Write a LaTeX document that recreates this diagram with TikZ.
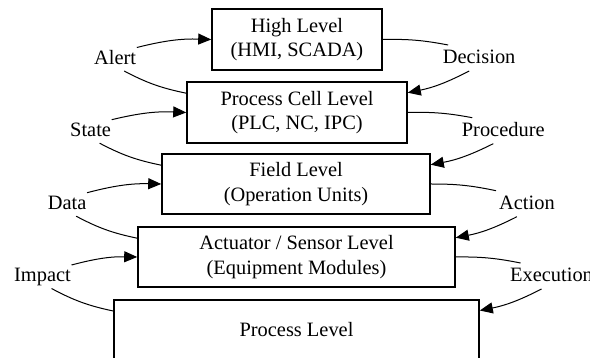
\documentclass[tikz,border=0pt]{standalone}
\usepackage{fontspec}
\setmainfont{Liberation Serif}
\usetikzlibrary{calc,arrows.meta}
\begin{document}
\begin{tikzpicture}[x=1pt,y=1pt,
  lvl/.style={draw,line width=1.6pt,inner sep=0pt,align=center,
    font=\fontsize{20.4pt}{24.5pt}\selectfont},
  lbl/.style={inner sep=0pt,anchor=base west,font=\fontsize{20.4pt}{24.5pt}\selectfont},
  conn/.style={line width=1pt},
  arr/.style={line width=1pt,-{Triangle[length=13pt,width=11pt]}}]
\useasboundingbox (0,0) rectangle (590,-358);
\clip (0,0) rectangle (590,-358);
% boxes
\node[lvl,minimum width=170pt,minimum height=61pt] (b1) at (297,-39.5) {High Level\\(HMI, SCADA)};
\node[lvl,minimum width=220pt,minimum height=61pt] (b2) at (297,-112.5) {Process Cell Level\\(PLC, NC, IPC)};
\node[lvl,minimum width=268pt,minimum height=60pt] (b3) at (296,-184) {Field Level\\(Operation Units)};
\node[lvl,minimum width=317pt,minimum height=60pt] (b4) at (296.5,-257) {Actuator / Sensor Level\\(Equipment Modules)};
\node[draw,line width=1.6pt,minimum width=365pt,anchor=north,inner xsep=0pt,inner ysep=22.7pt,
  text height=14pt,text depth=20pt,font=\fontsize{20.4pt}{24.5pt}\selectfont] (b5) at (296.5,-299) {Process Level};
% left labels
\node[lbl] (alert) at (94,-64.5) {Alert};
\node[lbl] (state) at (70,-136.7) {State};
\node[lbl] (data) at (47.7,-209.7) {Data};
\node[lbl] (impact) at (14,-282) {Impact};
% right labels
\node[lbl] (decision) at (442.7,-64) {Decision};
\node[lbl] (procedure) at (461.7,-136.7) {Procedure};
\node[lbl] (action) at (499,-209.7) {Action};
\node[lbl] (execution) at (510,-282) {Execution};
% left connectors
\foreach \l/\up/\dn in {alert/b1/b2, state/b2/b3, data/b3/b4, impact/b4/b5}{
  \draw[arr] ($(\l.base east)+(0.5,17)$) to[bend left=8] (\up.west);
  \draw[conn] ($(\l.base)+(9,-6.5)$) to[bend right=8] ($(\dn.north west)+(0,-12)$);
}
% right connectors
\foreach \l/\up/\dn in {decision/b1/b2, procedure/b2/b3, action/b3/b4, execution/b4/b5}{
  \draw[conn] (\up.east) to[bend left=6] ($(\l.base)+(-31,19)$);
  \draw[arr] ($(\l.base)+(-10,-7)$) to[bend left=8] ($(\dn.north east)+(0,-11.5)$);
}
\end{tikzpicture}
\end{document}
